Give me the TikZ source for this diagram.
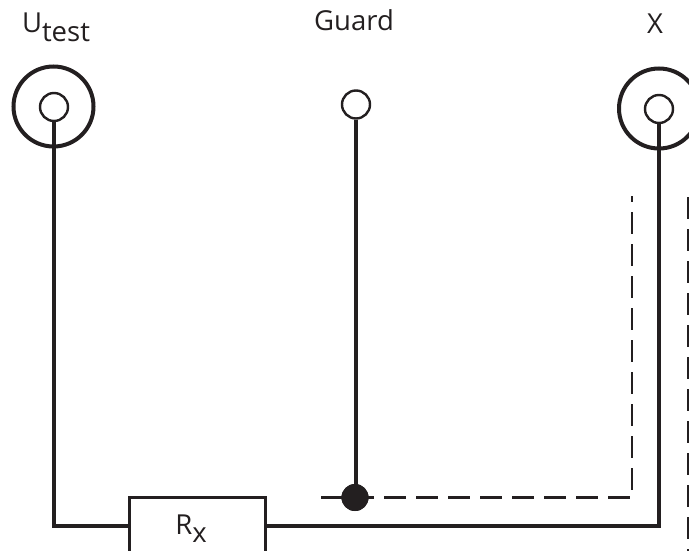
\documentclass[tikz,border=0pt]{standalone}
\usepackage{fontspec}
\setmainfont{Open Sans}
\definecolor{ink}{HTML}{231F20}
\tikzset{
  wire/.style={draw=ink,line width=4pt},
  dashwire/.style={draw=ink,line width=2.8pt,dash pattern=on 21.5pt off 10.5pt},
  outer/.style={circle,draw=ink,line width=4pt,minimum size=80pt,inner sep=0pt},
  inner/.style={circle,draw=ink,fill=white,line width=2.4pt,minimum size=28pt,inner sep=0pt},
  lab/.style={text=ink,font=\fontsize{27.5}{30}\selectfont,inner sep=0pt},
  dot/.style={circle,fill=ink,minimum size=27pt,inner sep=0pt},
  res/.style={draw=ink,fill=white,line width=3pt,minimum width=136pt,minimum height=90pt,inner sep=0pt}
}
\begin{document}
\begin{tikzpicture}[x=1pt,y=-1pt]
\useasboundingbox (0,0) rectangle (689,551);
\clip (0,0) rectangle (689,551);
\node[outer] (uo) at (53.5,106.5) {};
\node[outer] (xo) at (659,108.5) {};
\node[inner] (ui) at (54,107) {};
\node[inner] (gi) at (356,104.5) {};
\node[inner] (xi) at (659,109) {};
\node[dot] (j) at (355,497.5) {};
\node[res] (r) at (197,542.5) {};
\coordinate (rl) at (r.west|-0,525.5);
\coordinate (rr) at (r.east|-0,525.5);
\coordinate (dtop) at (632,196);
\coordinate (dcorner) at (632,497.5);
\coordinate (dleft) at (321,497.5);
\coordinate (etop) at (688.5,197);
\coordinate (ebot) at (688.5,551);
\draw[wire] (ui.south) -- (54,525.5) -- (rl);
\draw[wire] (rr) -- (659,525.5) -- (xi.south);
\draw[wire] (gi.south) -- (gi.south|-j.center);
\draw[dashwire,dash phase=16pt] (dtop) -- (dcorner) -- (dleft);
\draw[dashwire] (etop) -- (ebot);
\node[dot] at (j) {};
\node[lab,anchor=base] (tu) at (56,33) {U\raisebox{-9pt}{test}};
\node[lab,anchor=base] (tg) at (354,31) {Guard};
\node[lab,anchor=base] (tx) at (655,34) {X};
\node[lab,anchor=base] (tr) at (191,534) {R\raisebox{-8pt}{x}};
\end{tikzpicture}
\end{document}
